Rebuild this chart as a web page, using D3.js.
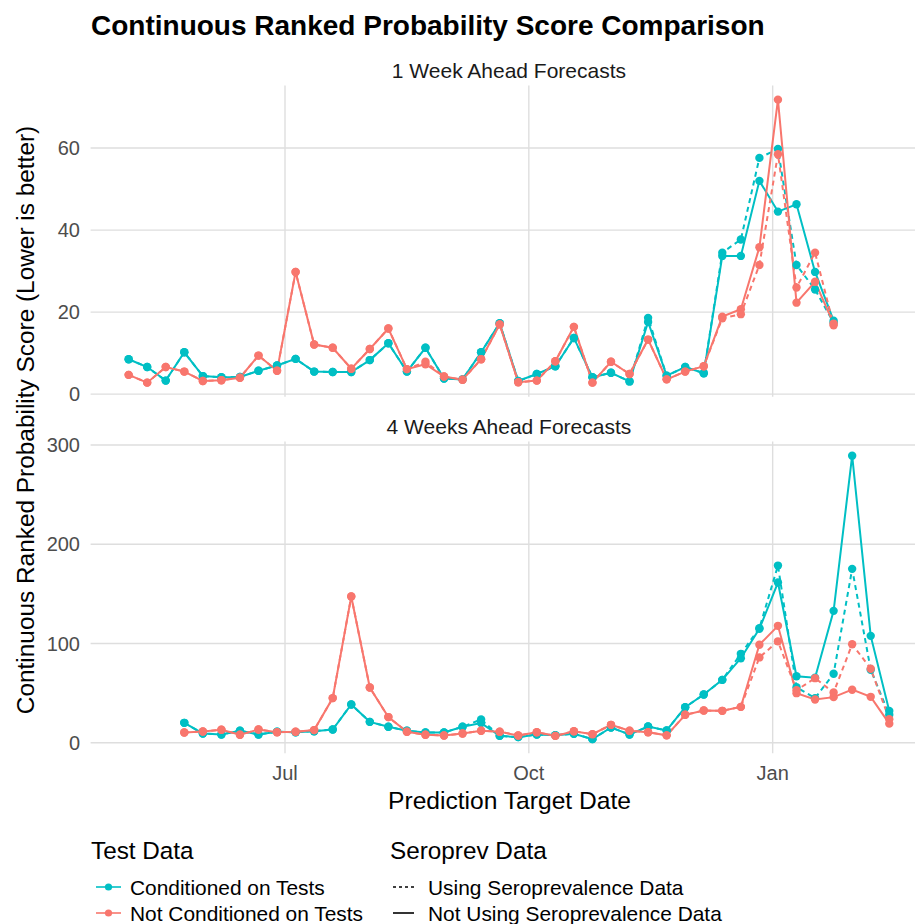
<!DOCTYPE html>
<html><head><meta charset="utf-8">
<script src="https://cdn.jsdelivr.net/npm/d3@7"></script>
<style>body{margin:0;background:#fff}svg{display:block;font-family:"Liberation Sans",Arial,sans-serif}</style>
</head><body><svg id="c" width="915" height="924"></svg>
<script>
// ---- Data ----
const datesWeek1 = ["2020-05-03","2020-05-10","2020-05-17","2020-05-24","2020-05-31","2020-06-07","2020-06-14","2020-06-21","2020-06-28","2020-07-05","2020-07-12","2020-07-19","2020-07-26","2020-08-02","2020-08-09","2020-08-16","2020-08-23","2020-08-30","2020-09-06","2020-09-13","2020-09-20","2020-09-27","2020-10-04","2020-10-11","2020-10-18","2020-10-25","2020-11-01","2020-11-08","2020-11-15","2020-11-22","2020-11-29","2020-12-06","2020-12-13","2020-12-20","2020-12-27","2021-01-03","2021-01-10","2021-01-17","2021-01-24"];
const datesWeek4 = ["2020-05-24","2020-05-31","2020-06-07","2020-06-14","2020-06-21","2020-06-28","2020-07-05","2020-07-12","2020-07-19","2020-07-26","2020-08-02","2020-08-09","2020-08-16","2020-08-23","2020-08-30","2020-09-06","2020-09-13","2020-09-20","2020-09-27","2020-10-04","2020-10-11","2020-10-18","2020-10-25","2020-11-01","2020-11-08","2020-11-15","2020-11-22","2020-11-29","2020-12-06","2020-12-13","2020-12-20","2020-12-27","2021-01-03","2021-01-10","2021-01-17","2021-01-24","2021-01-31","2021-02-07","2021-02-14"];

// 1 week ahead
const w1CondNoSero   = [8.5,6.6,3.3,10.2,4.4,4.1,4.2,5.7,7.0,8.6,5.5,5.4,5.4,8.3,12.4,5.5,11.3,3.8,3.6,10.2,17.3,3.2,4.9,6.8,13.7,4.1,5.2,3.1,17.6,4.5,6.6,5.1,33.7,33.7,52.0,44.5,46.3,29.8,17.9];
const w1CondSero     = [8.5,6.6,3.3,10.2,4.4,4.1,4.2,5.7,7.0,8.6,5.5,5.4,5.4,8.3,12.4,5.5,11.3,3.8,3.6,10.2,17.3,3.2,4.9,6.8,13.7,4.1,5.2,3.1,18.6,4.5,6.6,5.1,34.5,37.7,57.6,59.8,31.5,25.5,17.4];
const w1NotCondNoSero= [4.7,2.8,6.6,5.5,3.2,3.4,4.0,9.4,5.7,29.8,12.1,11.3,6.2,11.0,16.0,6.1,7.3,4.3,3.5,8.5,17.0,2.9,3.3,8.0,16.4,2.8,7.9,4.9,13.3,3.6,5.5,6.8,18.9,20.7,35.8,71.8,22.3,27.4,17.2];
const w1NotCondSero  = [4.7,2.8,6.6,5.5,3.2,3.4,4.0,9.4,5.7,29.8,12.1,11.3,6.2,11.0,16.0,6.1,7.9,4.3,3.5,8.5,17.0,2.9,3.3,8.0,16.4,2.8,7.9,4.9,13.3,3.6,5.5,6.8,18.5,19.5,31.5,58.5,26.0,34.5,16.8];

// 4 weeks ahead
const w4CondNoSero   = [20.1,9.4,8.4,12.1,8.4,11.1,10.7,11.7,13.4,38.6,21.1,16.1,12.1,10.4,10.4,16.1,19.8,7.0,5.7,8.4,7.7,9.1,3.7,15.4,8.4,16.4,12.4,35.9,48.6,63.4,85.2,114.8,161.4,67.0,65.6,132.9,289.2,107.7,32.0];
const w4CondSero     = [20.1,9.4,8.4,12.1,8.4,11.1,10.7,11.7,13.4,38.6,21.1,16.1,12.1,10.4,10.4,16.1,23.5,7.0,5.7,8.4,7.7,9.1,3.7,15.4,8.4,16.4,12.4,35.9,48.6,63.4,89.6,115.5,178.5,56.0,45.0,69.5,175.2,73.5,28.2];
const w4NotCondNoSero= [10.4,11.4,13.1,8.1,13.4,10.7,11.1,12.8,45.0,147.3,55.7,25.9,11.1,8.1,7.4,9.4,12.1,11.1,7.4,10.7,7.0,11.7,8.7,18.1,12.1,10.7,7.5,28.2,32.5,32.2,36.2,98.8,117.8,50.0,43.6,46.0,53.5,46.3,19.3];
const w4NotCondSero  = [10.4,11.4,13.1,8.1,13.4,10.7,11.1,12.8,45.0,147.3,55.7,25.9,11.1,8.1,7.4,9.4,12.1,11.1,7.4,10.7,7.0,11.7,8.7,18.1,12.1,10.7,7.5,28.2,32.5,32.2,36.2,86.0,102.2,53.0,65.1,50.6,99.3,74.6,23.7];

const yTicksWeek1 = [0,20,40,60];
const yTicksWeek4 = [0,100,200,300];
const xTickDates = ["2020-07-01","2020-10-01","2021-01-01"];
const xTickLabels = ["Jul","Oct","Jan"];
const testLabels = ["Conditioned on Tests","Not Conditioned on Tests"];
const seroLabels = ["Using Seroprevalence Data","Not Using Seroprevalence Data"];
const colors = ["#00BFC4","#F8766D"];

// ---- Build ----
const parse = d3.utcParse("%Y-%m-%d");
const svg = d3.select("#c");
const PL = 90.6, PR = 927.3;

const allDates = datesWeek1.concat(datesWeek4).map(parse);
const ext = d3.extent(allDates);
const span = ext[1] - ext[0];
const x = d3.scaleUtc().domain([new Date(+ext[0] - span*0.05), new Date(+ext[1] + span*0.05)]).range([PL, PR]);

const panels = [
  {title:"1 Week Ahead Forecasts", top:85.5, bottom:396.8, dates:datesWeek1, ticks:yTicksWeek1,
   series:[{v:w1CondNoSero,c:0,dash:false},{v:w1CondSero,c:0,dash:true},{v:w1NotCondNoSero,c:1,dash:false},{v:w1NotCondSero,c:1,dash:true}]},
  {title:"4 Weeks Ahead Forecasts", top:441.5, bottom:753.3, dates:datesWeek4, ticks:yTicksWeek4,
   series:[{v:w4CondNoSero,c:0,dash:false},{v:w4CondSero,c:0,dash:true},{v:w4NotCondNoSero,c:1,dash:false},{v:w4NotCondSero,c:1,dash:true}]}
];

panels.forEach(p => {
  const vals = p.series.flatMap(s => s.v);
  const [mn, mx] = d3.extent(vals);
  const r = mx - mn;
  const y = d3.scaleLinear().domain([mn - r*0.05, mx + r*0.05]).range([p.bottom, p.top]);
  const g = svg.append("g");
  // grid
  g.selectAll(".hg").data(p.ticks).join("line")
    .attr("x1", PL).attr("x2", PR).attr("y1", d=>y(d)).attr("y2", d=>y(d))
    .attr("stroke","#DEDEDE").attr("stroke-width",1.4);
  g.selectAll(".vg").data(xTickDates).join("line")
    .attr("x1", d=>x(parse(d))).attr("x2", d=>x(parse(d))).attr("y1", p.top).attr("y2", p.bottom)
    .attr("stroke","#DEDEDE").attr("stroke-width",1.4);
  // y labels
  g.selectAll(".yl").data(p.ticks).join("text")
    .attr("x", 80).attr("y", d=>y(d)).attr("dy","0.36em").attr("text-anchor","end")
    .attr("font-size",20).attr("fill","#4D4D4D").text(d=>d);
  // strip
  g.append("text").attr("x",(PL+PR)/2).attr("y",p.top-15).attr("dy","0.36em").attr("text-anchor","middle")
    .attr("font-size",21).attr("fill","#1A1A1A").text(p.title);
  const dts = p.dates.map(parse);
  const line = d3.line().x((d,i)=>x(dts[i])).y(d=>y(d));
  p.series.forEach(s => {
    g.append("path").attr("d", line(s.v)).attr("fill","none").attr("stroke",colors[s.c])
      .attr("stroke-width",2).attr("stroke-dasharray", s.dash ? "5,4" : null);
  });
  p.series.forEach(s => {
    g.selectAll(null).data(s.v).join("circle")
      .attr("cx",(d,i)=>x(dts[i])).attr("cy",d=>y(d)).attr("r",4.2).attr("fill",colors[s.c]);
  });
});

// x axis labels
svg.selectAll(".xl").data(xTickDates).join("text")
  .attr("x", d=>x(parse(d))).attr("y", 773).attr("dy","0.36em").attr("text-anchor","middle")
  .attr("font-size",20).attr("fill","#4D4D4D").text((d,i)=>xTickLabels[i]);
// axis titles
svg.append("text").attr("x",509.5).attr("y",800).attr("dy","0.36em").attr("text-anchor","middle")
  .attr("font-size",24.6).attr("fill","#000").text("Prediction Target Date");
svg.append("text").attr("transform","translate(25,420) rotate(-90)").attr("dy","0.36em").attr("text-anchor","middle")
  .attr("font-size",24.4).attr("fill","#000").text("Continuous Ranked Probability Score (Lower is better)");
// title
svg.append("text").attr("x",91).attr("y",25).attr("dy","0.36em").attr("font-size",28).attr("font-weight","bold")
  .attr("fill","#000").text("Continuous Ranked Probability Score Comparison");

// legend
const lg = svg.append("g");
lg.append("text").attr("x",91).attr("y",850).attr("dy","0.36em").attr("font-size",24.3).text("Test Data");
testLabels.forEach((t,i)=>{
  const yy = 887 + i*26;
  lg.append("line").attr("x1",96).attr("x2",121).attr("y1",yy).attr("y2",yy).attr("stroke",colors[i]).attr("stroke-width",1.6);
  lg.append("circle").attr("cx",108.5).attr("cy",yy).attr("r",3.6).attr("fill",colors[i]);
  lg.append("text").attr("x",130).attr("y",yy).attr("dy","0.36em").attr("font-size",20.9).text(t);
});
lg.append("text").attr("x",390).attr("y",850).attr("dy","0.36em").attr("font-size",24.3).text("Seroprev Data");
seroLabels.forEach((t,i)=>{
  const yy = 887 + i*26;
  lg.append("line").attr("x1",393).attr("x2",414).attr("y1",yy).attr("y2",yy).attr("stroke","#000").attr("stroke-width",1.6)
    .attr("stroke-dasharray", i===0 ? "3,3" : null);
  lg.append("text").attr("x",428).attr("y",yy).attr("dy","0.36em").attr("font-size",20.9).text(t);
});
</script></body></html>
